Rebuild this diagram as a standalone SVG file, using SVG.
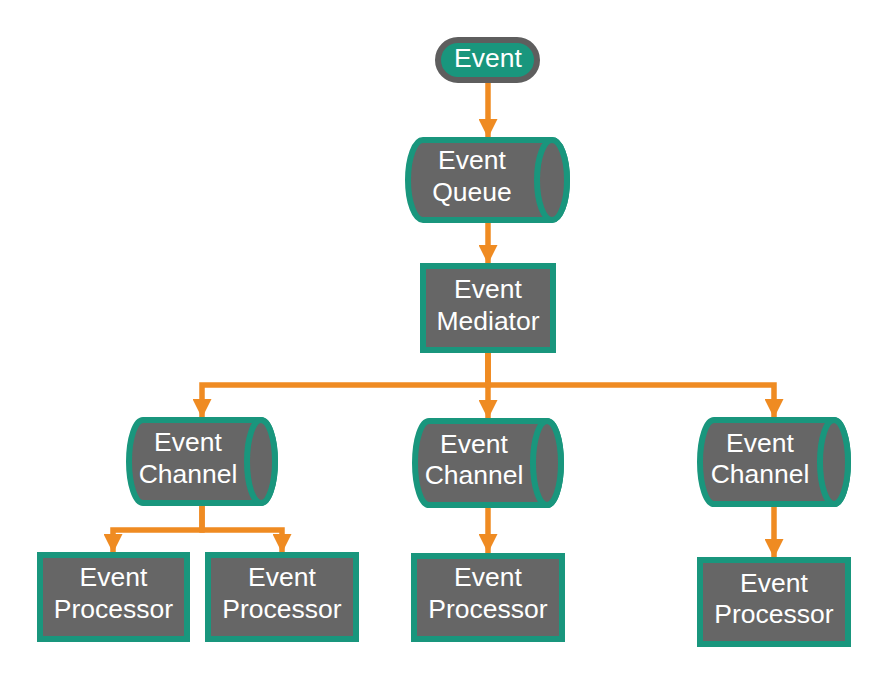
<svg xmlns="http://www.w3.org/2000/svg" width="888" height="684" viewBox="0 0 888 684">
<style>
.box{fill:#666666;stroke:#19967d;stroke-width:6}
.cyl{fill:#666666;stroke:#19967d;stroke-width:6;stroke-linejoin:round}
.lbl{font-family:"Liberation Sans",Arial,sans-serif;font-size:26.5px;fill:#ffffff;text-anchor:middle}
.con{fill:none;stroke:#ef8b22;stroke-width:5.5;stroke-linejoin:miter}
</style>
<defs>
<marker id="ah" markerUnits="userSpaceOnUse" markerWidth="19" markerHeight="19" viewBox="0 0 19 19" refX="19" refY="9.5" orient="auto">
<path d="M0,0 L19,9.5 L0,19 z" fill="#ef8b22"/>
</marker>
</defs>
<rect width="888" height="684" fill="#ffffff"/>
<g id="connectors">
<path class="con" d="M488,83 V138" marker-end="url(#ah)"/>
<path class="con" d="M488,223 V264" marker-end="url(#ah)"/>
<path class="con" d="M488,353 V385 H202 V418" marker-end="url(#ah)"/>
<path class="con" d="M488,353 V419" marker-end="url(#ah)"/>
<path class="con" d="M488,353 V385 H774 V418" marker-end="url(#ah)"/>
<path class="con" d="M202,506 V530 H113 V553" marker-end="url(#ah)"/>
<path class="con" d="M202,506 V530 H282 V553" marker-end="url(#ah)"/>
<path class="con" d="M488,508 V553" marker-end="url(#ah)"/>
<path class="con" d="M774,507 V558" marker-end="url(#ah)"/>
</g>
<g id="event">
<rect x="438" y="40" width="99" height="40" rx="20" fill="#19967d" stroke="#5e5e5e" stroke-width="6"/>
<text class="lbl" x="488" y="67">Event</text>
</g>
<g id="queue">
<path class="cyl" d="M423,140 H552 A15,40 0 0 1 552,220 H423 A15,40 0 0 1 423,140 Z"/>
<ellipse class="cyl" cx="552" cy="180" rx="15" ry="40"/>
<text class="lbl" x="472" y="169">Event</text>
<text class="lbl" x="472" y="201">Queue</text>
</g>
<g id="mediator">
<rect class="box" x="423" y="266" width="130" height="84"/>
<text class="lbl" x="488" y="298">Event</text>
<text class="lbl" x="488" y="330">Mediator</text>
</g>
<g id="channel1">
<path class="cyl" d="M143,420 H261 A14,41.5 0 0 1 261,503 H143 A14,41.5 0 0 1 143,420 Z"/>
<ellipse class="cyl" cx="261" cy="461.5" rx="14" ry="41.5"/>
<text class="lbl" x="188" y="451">Event</text>
<text class="lbl" x="188" y="483">Channel</text>
</g>
<g id="channel2">
<path class="cyl" d="M429,421 H547 A14,42 0 0 1 547,505 H429 A14,42 0 0 1 429,421 Z"/>
<ellipse class="cyl" cx="547" cy="463" rx="14" ry="42"/>
<text class="lbl" x="474" y="453">Event</text>
<text class="lbl" x="474" y="484">Channel</text>
</g>
<g id="channel3">
<path class="cyl" d="M714,420 H834 A14,42 0 0 1 834,504 H714 A14,42 0 0 1 714,420 Z"/>
<ellipse class="cyl" cx="834" cy="462" rx="14" ry="42"/>
<text class="lbl" x="760" y="452">Event</text>
<text class="lbl" x="760" y="483">Channel</text>
</g>
<g id="processor1">
<rect class="box" x="40" y="555" width="147" height="84"/>
<text class="lbl" x="113.5" y="586">Event</text>
<text class="lbl" x="113.5" y="618">Processor</text>
</g>
<g id="processor2">
<rect class="box" x="208" y="555" width="148" height="84"/>
<text class="lbl" x="282" y="586">Event</text>
<text class="lbl" x="282" y="618">Processor</text>
</g>
<g id="processor3">
<rect class="box" x="414" y="556" width="148" height="83"/>
<text class="lbl" x="488" y="586">Event</text>
<text class="lbl" x="488" y="618">Processor</text>
</g>
<g id="processor4">
<rect class="box" x="700" y="560" width="148" height="84"/>
<text class="lbl" x="774" y="592">Event</text>
<text class="lbl" x="774" y="623">Processor</text>
</g>
</svg>
